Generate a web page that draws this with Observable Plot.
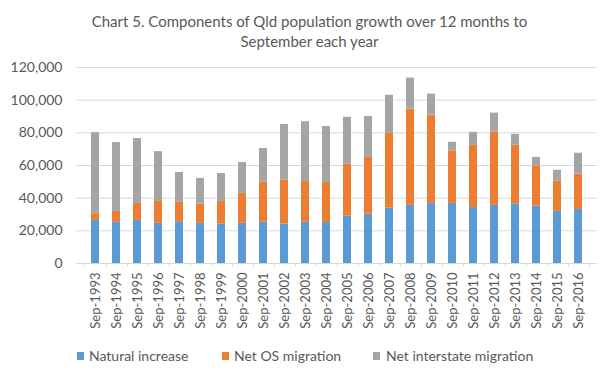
<!DOCTYPE html>
<html>
<head>
<meta charset="utf-8">
<script src="https://cdn.jsdelivr.net/npm/d3@7"></script>
<script src="https://cdn.jsdelivr.net/npm/@observablehq/plot@0.6"></script>
<style>
  html, body { margin: 0; padding: 0; background: #fff; }
  #wrap { position: relative; width: 613px; height: 379px; overflow: hidden; font-family: Lato, "Open Sans", sans-serif; color: #595959; }
  #title { position: absolute; left: 3px; top: 11px; width: 613px; text-align: center; font-size: 15px; line-height: 20px; }
  #chart { position: absolute; left: 0; top: 56px; }
  .lg { position: absolute; top: 347px; font-size: 14px; line-height: 18px; white-space: nowrap; }
  .sw { position: absolute; top: 352px; width: 7px; height: 8px; }
</style>
</head>
<body>
<div id="wrap">
  <div id="title">Chart 5. Components of Qld population growth over 12 months to<br>September each year</div>
  <div id="chart"></div>
  <div id="legend"></div>
</div>
<script>
const years = ["Sep-1993","Sep-1994","Sep-1995","Sep-1996","Sep-1997","Sep-1998","Sep-1999","Sep-2000","Sep-2001","Sep-2002","Sep-2003","Sep-2004","Sep-2005","Sep-2006","Sep-2007","Sep-2008","Sep-2009","Sep-2010","Sep-2011","Sep-2012","Sep-2013","Sep-2014","Sep-2015","Sep-2016"];
const seriesNames = ["Natural increase", "Net OS migration", "Net interstate migration"];
const seriesColors = ["#5B9BD5", "#ED7D31", "#A5A5A5"];
const naturalIncrease = [26400,25200,26400,24600,25600,24600,24200,24600,25200,24200,25200,25100,29000,30200,33900,35600,36800,36800,34300,35600,36400,35200,31900,33100];
const netOSMigration = [4100,6700,10400,13400,11800,11800,13800,18300,24600,26900,25000,24500,31900,34700,45800,58900,54000,31900,38000,45000,36000,24500,18400,21700];
const netInterstateMigration = [49600,42100,39700,30500,18300,15700,17100,18900,20600,34000,36600,34300,28600,25100,23300,19000,12900,5500,8000,11500,6700,5300,6800,12700];
const yTicks = [0, 20000, 40000, 60000, 80000, 100000, 120000];

const seriesValues = [naturalIncrease, netOSMigration, netInterstateMigration];
const data = [];
seriesNames.forEach((s, i) => years.forEach((y, j) => data.push({year: y, series: s, value: seriesValues[i][j]})));

const W = 613, H = 290, mL = 76, mR = 16, mT = 11, mB = 83;
const step = (W - mL - mR) / years.length;

const chart = Plot.plot({
  width: W, height: H,
  marginLeft: mL, marginRight: mR, marginTop: mT, marginBottom: mB,
  style: {fontFamily: "Lato, 'Open Sans', sans-serif", color: "#595959", background: "#fff", overflow: "visible"},
  x: {domain: years, paddingInner: 0.6, paddingOuter: 0.3, label: null},
  y: {domain: [0, 120000], label: null},
  color: {domain: seriesNames, range: seriesColors},
  marks: [
    Plot.gridY(yTicks, {stroke: "#d9d9d9", strokeOpacity: 1}),
    Plot.barY(data, {x: "year", y: "value", z: "series", fill: "series", order: seriesNames}),
    Plot.ruleY([0], {stroke: "#d9d9d9"}),
    Plot.ruleX(years, {x: d => d, y1: 0, y2: -2000, dx: step / 2, stroke: "#d9d9d9"}),
    Plot.ruleX([years[0]], {x: d => d, y1: 0, y2: -2000, dx: -step / 2, stroke: "#d9d9d9"}),
    Plot.axisY(yTicks, {tickFormat: d3.format(","), tickSize: 0, tickPadding: 14, fontSize: 14, label: null}),
    Plot.axisX({tickRotate: -90, tickSize: 0, tickPadding: 9, fontSize: 13, label: null})
  ]
});
document.getElementById("chart").appendChild(chart);

const legendPos = [[77, 89], [222, 234], [373, 386]];
const lg = document.getElementById("legend");
seriesNames.forEach((s, i) => {
  const sw = document.createElement("div");
  sw.className = "sw";
  sw.style.left = legendPos[i][0] + "px";
  sw.style.background = seriesColors[i];
  lg.appendChild(sw);
  const t = document.createElement("div");
  t.className = "lg";
  t.style.left = legendPos[i][1] + "px";
  t.textContent = s;
  lg.appendChild(t);
});
</script>
</body>
</html>
